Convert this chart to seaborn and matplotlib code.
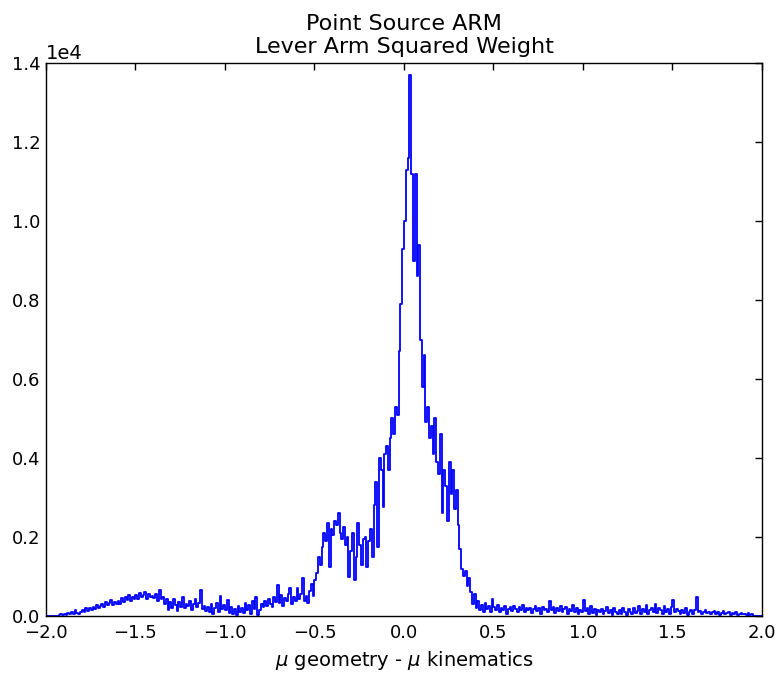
import numpy as np
import pandas as pd
import matplotlib
matplotlib.use("Agg")
import matplotlib.pyplot as plt
import seaborn as sns

# Histogram: 400 bins of width 0.01 from -2.0 to 2.0 (counts)
bin_lo, bin_hi, n_bins = -2.0, 2.0, 400

tail_left = [
    0, 0, 0, 0, 0, 0, 0, 30, 40, 20,                 # -2.0 .. -1.9
    50, 30, 70, 40, 90, 60, 150, 80, 60, 110,        # -1.9 .. -1.8
    140, 100, 190, 120, 210, 160, 240, 170, 280, 200,  # -1.8 .. -1.7
    260, 310, 220, 350, 270, 330, 400, 290, 360, 310,  # -1.7 .. -1.6
    380, 300, 450, 350, 470, 400, 520, 380, 490, 430,  # -1.6 .. -1.5
    540, 430, 580, 470, 520, 600, 440, 560, 490, 510,  # -1.5 .. -1.4
    460, 560, 380, 660, 420, 480, 300, 420, 160, 350,  # -1.4 .. -1.3
    200, 420, 280, 120, 350, 240, 470, 190, 300, 260,  # -1.3 .. -1.2
    380, 160, 300, 440, 220, 340, 660, 180, 260, 120,  # -1.2 .. -1.1
    240, 90, 300, 60, 190, 330, 100, 500, 170, 280,    # -1.1 .. -1.0
    150, 400, 80, 230, 60, 180, 30, 260, 110, 200,     # -1.0 .. -0.9
    70, 330, 140, 280, 60, 390, 180, 480, 20, 160,     # -0.9 .. -0.8
    300, 220, 380, 260, 440, 310, 240, 470, 360, 780,  # -0.8 .. -0.7
    330, 520, 250, 460, 370, 560, 700, 300, 480, 380,  # -0.7 .. -0.6
    700, 420, 560, 960, 380, 500, 330, 640, 800, 500,  # -0.6 .. -0.5
]

shoulder = [
    900, 1100, 1500, 1300, 1750, 2100, 1900, 2350, 1250, 2200,   # -0.5 .. -0.4
    2050, 2400, 2300, 2600, 2100, 1950, 2250, 1800, 2000, 990,   # -0.4 .. -0.3
    1650, 2100, 900, 1500, 2350, 1800, 1300, 1950, 2000, 1250,   # -0.3 .. -0.2
    1900, 2200, 1500, 2800, 3400, 1750, 4000, 3700, 2750, 4100,  # -0.2 .. -0.1
]

core = [
    4300, 3700, 4500, 5000, 4600, 5300, 5100, 6700, 7900, 9300,       # -0.1 .. 0.0
    10000, 11300, 11600, 13700, 11200, 9000, 11200, 8600, 9400, 7000,  # 0.0 .. 0.1
    5800, 6600, 4900, 5300, 4500, 4800, 4100, 5000, 3900, 3600,       # 0.1 .. 0.2
    4600, 2600, 3700, 3300, 2400, 3900, 3100, 3700, 2700, 3200,       # 0.2 .. 0.3
    2300, 1700, 1200, 1000, 1150, 750, 950, 600, 300, 550,            # 0.3 .. 0.4
]

tail_right = [
    200, 380, 150, 290, 110, 330, 180, 250, 90, 420,   # 0.4 .. 0.5
    220, 140, 280, 90, 200, 160, 250, 60, 180, 230,    # 0.5 .. 0.6
    120, 260, 170, 90, 230, 140, 280, 100, 190, 150,   # 0.6 .. 0.7
    210, 80, 170, 250, 120, 190, 60, 220, 140, 180,    # 0.7 .. 0.8
    90, 380, 150, 230, 70, 200, 130, 260, 100, 170,    # 0.8 .. 0.9
    230, 60, 180, 120, 270, 90, 200, 40, 150, 110,     # 0.9 .. 1.0
    400, 120, 190, 50, 260, 80, 170, 30, 140, 90,      # 1.0 .. 1.1
    180, 40, 120, 220, 70, 150, 30, 190, 100, 60,      # 1.1 .. 1.2
    140, 50, 210, 90, 30, 170, 110, 60, 200, 80,       # 1.2 .. 1.3
    120, 250, 60, 180, 100, 270, 40, 150, 210, 90,     # 1.3 .. 1.4
    300, 80, 190, 140, 60, 260, 110, 170, 50, 230,     # 1.4 .. 1.5
    400, 90, 180, 120, 40, 150, 70, 200, 30, 110,      # 1.5 .. 1.6
    160, 60, 140, 480, 90, 120, 50, 100, 140, 70,      # 1.6 .. 1.7
    110, 40, 90, 130, 60, 100, 30, 80, 120, 50,        # 1.7 .. 1.8
    70, 100, 30, 80, 50, 90, 20, 60, 80, 40,           # 1.8 .. 1.9
    60, 30, 70, 20, 50, 0, 0, 0, 0, 0,                 # 1.9 .. 2.0
]

x_ticks = [-2.0, -1.5, -1.0, -0.5, 0.0, 0.5, 1.0, 1.5, 2.0]
y_ticks = [0, 2000, 4000, 6000, 8000, 10000, 12000, 14000]

title = "Point Source ARM\nLever Arm Squared Weight"
xlabel = r"$\mu$ geometry - $\mu$ kinematics"

counts = np.array(tail_left + shoulder + core + tail_right, dtype=float)
width = (bin_hi - bin_lo) / n_bins
centers = bin_lo + width * (np.arange(n_bins) + 0.5)
df = pd.DataFrame({"arm": centers, "w": counts})

sns.set_style("white", {"xtick.direction": "in", "ytick.direction": "in",
                        "axes.edgecolor": "black", "text.color": "black",
                        "axes.labelcolor": "black", "xtick.color": "black",
                        "ytick.color": "black"})
plt.rcParams["font.family"] = ["DejaVu Sans"]
plt.rcParams["mathtext.fontset"] = "dejavusans"

fig = plt.figure(figsize=(7.82, 6.79), dpi=100)
ax = fig.add_axes([0.0588, 0.0928, 0.9156, 0.8144])

sns.histplot(data=df, x="arm", weights="w", bins=n_bins,
             binrange=(bin_lo, bin_hi), element="step",
             fill=False, color="#0000ff", alpha=1.0, linewidth=1.3, ax=ax)

ax.set_xlim(-2.0, 2.0)
ax.set_ylim(0, 14000)
ax.set_xticks(x_ticks)
ax.set_yticks(y_ticks)
ax.ticklabel_format(axis="y", style="sci", scilimits=(0, 0))
ax.yaxis.get_offset_text().set_fontsize(14)
ax.yaxis.get_offset_text().set_color("black")
ax.tick_params(axis="both", which="both", direction="in", length=5, width=1,
               top=True, right=True, labelsize=13, color="black",
               labelcolor="black")
ax.tick_params(axis="y", pad=4)
ax.tick_params(axis="x", pad=6)
for s in ax.spines.values():
    s.set_visible(True)
    s.set_color("black")
    s.set_linewidth(1.0)

ax.set_title(title, fontsize=16, pad=7, color="black")
ax.set_xlabel(xlabel, fontsize=14, labelpad=5, color="black")
ax.set_ylabel("")

fig.savefig("out.png", dpi=100, facecolor="white")
